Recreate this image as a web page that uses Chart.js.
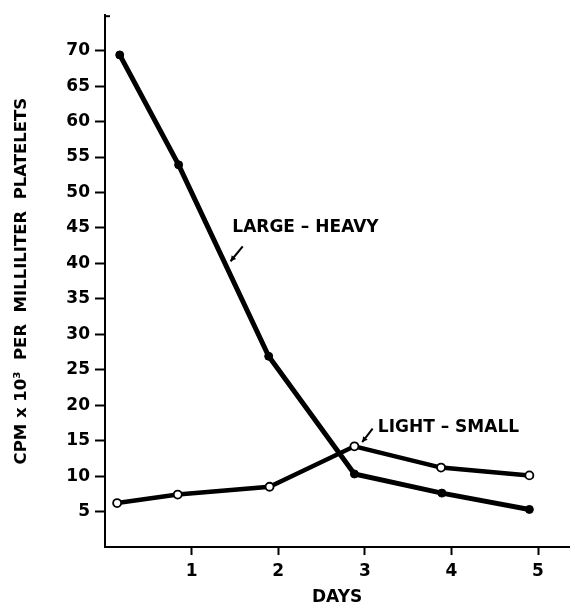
<!DOCTYPE html>
<html>
<head>
<meta charset="utf-8">
<script src="https://cdn.jsdelivr.net/npm/chart.js@4.4.1/dist/chart.umd.min.js"></script>
<style>
  html, body { margin: 0; padding: 0; background: #fff; overflow: hidden; }
  #wrap { width: 575px; height: 610px; position: relative; }
</style>
</head>
<body>
<div id="wrap"><canvas id="c"></canvas></div>
<script>
// ---- data ----
const largeHeavyDays   = [0.17, 0.85, 1.89, 2.88, 3.89, 4.90];
const largeHeavyValues = [69.4, 53.9, 26.9, 10.3, 7.6, 5.3];
const lightSmallDays   = [0.14, 0.84, 1.90, 2.88, 3.88, 4.90];
const lightSmallValues = [6.2, 7.4, 8.5, 14.2, 11.2, 10.1];
const xTickValues = [1, 2, 3, 4, 5];
const yTickValues = [5, 10, 15, 20, 25, 30, 35, 40, 45, 50, 55, 60, 65, 70];
const seriesLabels = ['LARGE – HEAVY', 'LIGHT – SMALL'];
const xTitle = 'DAYS';
const yTitle = 'CPM x 10\u00B3  PER  MILLILITER  PLATELETS';

const FONT = '"DejaVu Sans", sans-serif';

const toPoints = (xs, ys) => xs.map((x, i) => ({ x: x, y: ys[i] }));

// annotation labels with arrows (data coordinates)
const annotations = [
  { text: seriesLabels[0], tx: 1.47, ty: 45.0, ax1: 1.59, ay1: 42.4, ax2: 1.45, ay2: 40.3 },
  { text: seriesLabels[1], tx: 3.15, ty: 16.9, ax1: 3.09, ay1: 16.7, ax2: 2.97, ay2: 14.8 }
];

const annotationPlugin = {
  id: 'annot',
  afterDatasetsDraw(chart) {
    const ctx = chart.ctx;
    const xs = chart.scales.x, ys = chart.scales.y;
    ctx.save();
    ctx.fillStyle = '#000';
    ctx.strokeStyle = '#000';
    ctx.font = 'bold 17px ' + FONT;
    ctx.textAlign = 'left';
    ctx.textBaseline = 'middle';
    annotations.forEach(a => {
      ctx.fillText(a.text, xs.getPixelForValue(a.tx), ys.getPixelForValue(a.ty));
      const x1 = xs.getPixelForValue(a.ax1), y1 = ys.getPixelForValue(a.ay1);
      const x2 = xs.getPixelForValue(a.ax2), y2 = ys.getPixelForValue(a.ay2);
      ctx.lineWidth = 2;
      ctx.beginPath(); ctx.moveTo(x1, y1); ctx.lineTo(x2, y2); ctx.stroke();
      const ang = Math.atan2(y2 - y1, x2 - x1);
      const h = 6;
      ctx.beginPath();
      ctx.moveTo(x2, y2);
      ctx.lineTo(x2 - h * Math.cos(ang - 0.5), y2 - h * Math.sin(ang - 0.5));
      ctx.lineTo(x2 - h * Math.cos(ang + 0.5), y2 - h * Math.sin(ang + 0.5));
      ctx.closePath(); ctx.fill();
    });
    // small stub at the top of the y axis
    const top = chart.chartArea.top, left = chart.chartArea.left;
    ctx.lineWidth = 2;
    ctx.beginPath(); ctx.moveTo(left, top + 1); ctx.lineTo(left + 5, top + 1); ctx.stroke();
    ctx.restore();
  }
};

new Chart(document.getElementById('c'), {
  type: 'line',
  data: {
    datasets: [
      {
        label: seriesLabels[0],
        data: toPoints(largeHeavyDays, largeHeavyValues),
        borderColor: '#000',
        backgroundColor: '#000',
        borderWidth: 5,
        pointRadius: 4,
        pointBackgroundColor: '#000',
        pointBorderColor: '#000',
        pointBorderWidth: 1,
        tension: 0
      },
      {
        label: seriesLabels[1],
        data: toPoints(lightSmallDays, lightSmallValues),
        borderColor: '#000',
        backgroundColor: '#fff',
        borderWidth: 4.5,
        pointRadius: 4,
        pointBackgroundColor: '#fff',
        pointBorderColor: '#000',
        pointBorderWidth: 1.8,
        tension: 0
      }
    ]
  },
  options: {
    responsive: true,
    maintainAspectRatio: false,
    animation: false,
    events: [],
    layout: { padding: { top: 10, right: 0, left: 0, bottom: 0 } },
    plugins: { legend: { display: false }, tooltip: { enabled: false } },
    scales: {
      x: {
        type: 'linear',
        min: 0,
        max: 5.36,
        afterFit: s => { s.height = 63; },
        afterBuildTicks: s => { s.ticks = xTickValues.map(v => ({ value: v })); },
        grid: { drawOnChartArea: false, drawTicks: true, tickLength: 8, tickColor: '#000', tickWidth: 2 },
        border: { display: true, color: '#000', width: 2 },
        ticks: { color: '#000', font: { family: FONT, size: 17, weight: 'bold' }, padding: 6, maxRotation: 0 },
        title: { display: true, text: xTitle, color: '#000', font: { family: FONT, size: 17, weight: 'bold', lineHeight: 1.2 }, padding: { top: 0, bottom: 2 } }
      },
      y: {
        type: 'linear',
        min: 0,
        max: 75,
        afterFit: s => { s.width = 105; },
        afterBuildTicks: s => { s.ticks = yTickValues.map(v => ({ value: v })); },
        grid: { drawOnChartArea: false, drawTicks: true, tickLength: 10, tickColor: '#000', tickWidth: 2 },
        border: { display: true, color: '#000', width: 2 },
        ticks: { color: '#000', font: { family: FONT, size: 17, weight: 'bold' }, padding: 5 },
        title: { display: true, text: yTitle, color: '#000', font: { family: FONT, size: 16.5, weight: 'bold', lineHeight: 1.2 }, padding: { top: 12, bottom: 0 } }
      }
    }
  },
  plugins: [annotationPlugin]
});
</script>
</body>
</html>
